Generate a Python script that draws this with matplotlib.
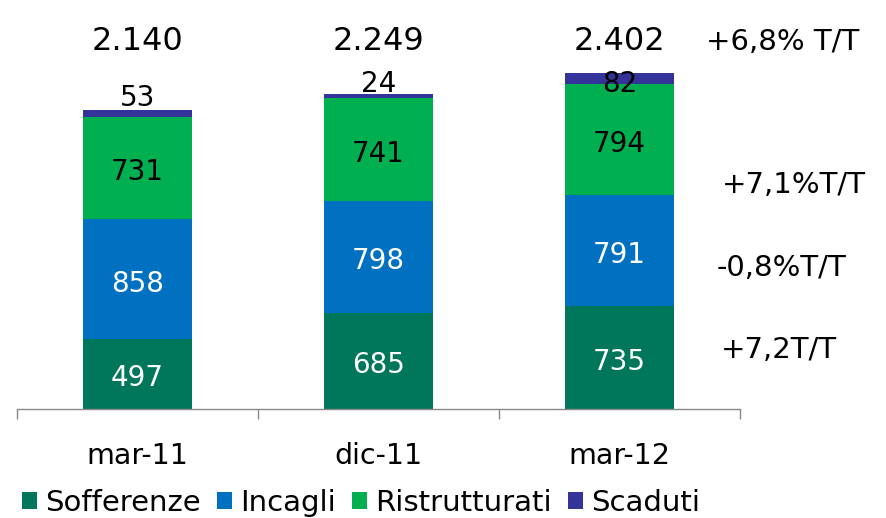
import matplotlib
matplotlib.use("Agg")
import matplotlib.pyplot as plt
from matplotlib.transforms import blended_transform_factory
from matplotlib.patches import Patch

categories = ["mar-11", "dic-11", "mar-12"]
sofferenze = [497, 685, 735]
incagli = [858, 798, 791]
ristrutturati = [731, 741, 794]
scaduti = [53, 24, 82]
totals = ["2.140", "2.249", "2.402"]
series_names = ["Sofferenze", "Incagli", "Ristrutturati", "Scaduti"]
colors = ["#00765A", "#0070C0", "#00B050", "#333399"]
variations = ["+6,8% T/T", "+7,1%T/T", "-0,8%T/T", "+7,2T/T"]

W, H = 887, 518
plt.rcParams['font.family'] = ['DejaVu Sans']
fig = plt.figure(figsize=(W / 100, H / 100), dpi=100)

# axes in pixel coordinates
ax_left, ax_right, ax_bottom, ax_top = 17, 740, 409, 0
ax = fig.add_axes([ax_left / W, (H - ax_bottom) / H, (ax_right - ax_left) / W, (ax_bottom - ax_top) / H])

x = list(range(len(categories)))
width = 0.455
series = [sofferenze, incagli, ristrutturati, scaduti]
bottoms = [0] * len(categories)
for vals, col in zip(series, colors):
    ax.bar(x, vals, width, bottom=bottoms, color=col, edgecolor='none')
    bottoms = [bt + v for bt, v in zip(bottoms, vals)]

ax.set_xlim(-0.5, 2.5)
ax.set_ylim(0, 2923)
for s in ["top", "right", "left"]:
    ax.spines[s].set_visible(False)
ax.spines["bottom"].set_color("#888888")
ax.spines["bottom"].set_linewidth(1.0)
ax.set_yticks([])
ax.set_xticks(x)
ax.set_xticklabels([])
ax.tick_params(axis='x', which='major', length=0)
ax.set_xticks([-0.5, 0.5, 1.5, 2.5], minor=True)
ax.tick_params(axis='x', which='minor', length=7, color="#888888", width=1.0)

# category labels
trans_cat = blended_transform_factory(ax.transData, fig.transFigure)
for i, c in enumerate(categories):
    ax.text(i, 1 - 456 / H, c, transform=trans_cat, ha='center', va='center', fontsize=20.5, clip_on=False)

# segment labels
lab_colors = ["white", "white", "black"]
for si in range(3):
    cum = [0] * len(categories)
    for sj in range(si):
        cum = [c + v for c, v in zip(cum, series[sj])]
    for i in x:
        ax.annotate(str(series[si][i]), (i, cum[i] + series[si][i] / 2), xytext=(0, -3),
                    textcoords='offset points', ha='center', va='center',
                    fontsize=20, color=lab_colors[si])

# scaduti labels (offsets in points)
scad_off = [11, 9, -4]
for i in x:
    base = sofferenze[i] + incagli[i] + ristrutturati[i]
    ax.annotate(str(scaduti[i]), (i, base + scaduti[i] / 2), xytext=(0, scad_off[i]),
                textcoords='offset points', ha='center', va='center', fontsize=20)

# totals
for i in x:
    ax.text(i, 1 - 41 / H, totals[i], transform=trans_cat, ha='center', va='center', fontsize=23, clip_on=False)

# variations on the right
var_pos = [(706, 42), (722, 185), (717, 268), (721, 350)]
for t, (px, py) in zip(variations, var_pos):
    fig.text(px / W, 1 - py / H, t, ha='left', va='center', fontsize=21)

# legend
handles = [Patch(facecolor=c, edgecolor='none') for c in colors]
fig.legend(handles, series_names, loc='center left', bbox_to_anchor=(22 / W, 1 - 503 / H),
           ncol=4, frameon=False, fontsize=21, handlelength=0.5, handleheight=0.5,
           handletextpad=0.3, columnspacing=0.55, borderaxespad=0, borderpad=0)

fig.savefig("out.png", dpi=100)
